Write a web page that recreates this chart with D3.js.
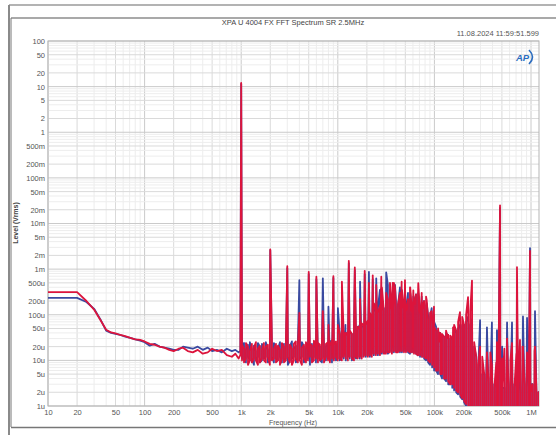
<!DOCTYPE html>
<html><head><meta charset="utf-8">
<script src="https://cdn.jsdelivr.net/npm/d3@7"></script>
<style>body{margin:0;background:#fff;} svg{display:block;}</style>
</head><body><svg id="c" width="556" height="435"></svg>
<script>
// ---- data (levels in µVrms) ----
// 10 Hz – 1 kHz: one reading per frequency
const lowFreqHz = [10,20,25,30,35,40,45,50,56,63,71,80,90,100,113,127,143,160,180,200,225,250,280,315,355,400,450,500,560,630,710,800,870,940,980];
const lowRedUv  = [313,313,200,130,76,47,41,39,36,34,31,29,28,26,23,22,20,19,17,16,18,19,16,15,17,14,15,18,16,17,13,12,14,11,13];
const lowBlueUv = [235,235,190,135,78,45,40,38,36,33,31,29,27,25,21,23,20,19,18,17,17,20,19,18,20,17,19,16,17,15,18,16,17,15,16];

// 1 kHz – 10 kHz: min / max per display column
const midFreqHz = [1020,1070,1120,1175,1230,1290,1355,1420,1490,1560,1640,1720,1800,1890,1980,2080,2180,2290,2400,2520,2640,2770,2900,3040,3190,3350,3510,3680,3860,4050,4250,4460,4680,4910,5150,5400,5660,5940,6230,6530,6850,7190,7540,7910,8290,8700,9120,9570];
const midRedMaxUv  = [22,18,24,20,16,23,19,25,18,21,17,24,20,22,19,26,18,23,21,17,24,20,25,19,22,18,23,26,20,24,19,22,25,18,23,21,27,20,24,22,26,19,23,25,21,28,22,26];
const midRedMinUv  = [10,9,11,8,10,9,11,10,8,9,11,10,9,12,8,10,11,9,10,8,11,9,10,12,9,8,10,11,9,10,8,11,9,10,12,9,10,11,9,10,11,9,12,10,9,11,10,12];
const midBlueMaxUv = [20,24,17,22,25,18,21,16,24,20,23,18,25,17,22,19,24,20,18,25,19,23,17,24,20,26,18,21,24,19,25,20,18,24,21,23,19,26,22,20,23,25,20,24,27,21,25,23];
const midBlueMinUv = [11,10,9,12,10,11,8,10,12,9,10,11,12,9,10,12,9,11,10,12,9,10,11,8,10,11,12,9,10,11,12,9,10,11,8,10,12,9,11,10,9,12,10,11,10,9,11,10];

// 10 kHz – 1.25 MHz: min / max per display column
const highFreqHz = [10000,10500,11000,11500,12100,12700,13300,14000,14700,15400,
  16100,16900,17700,18600,19500,20500,21500,22500,23600,24800,
  26000,27300,28600,30000,31500,33000,34600,36300,38100,40000,
  42000,44000,46100,48400,50800,53300,55900,58600,61500,64500,
  67700,71000,74500,78200,82000,86000,90200,94700,99300,104000,
  109000,115000,120000,126000,132000,139000,146000,153000,160000,168000,
  176000,185000,194000,203000,213000,224000,235000,246000,258000,271000,
  284000,298000,313000,328000,344000,361000,379000,397000,417000,437000,
  459000,481000,505000,530000,556000,583000,612000,642000,673000,706000,
  741000,777000,815000,855000,897000,941000,988000,1036000,1087000,1140000,
  1196000,1250000];
const highRedMaxUv = [32,38,30,40,35,42,45,38,50,44,
  55,48,65,58,60,75,110,90,180,130,
  110,160,400,120,150,220,250,120,500,140,
  170,300,350,130,120,220,400,110,160,280,
  300,100,130,200,250,80,110,60,55,45,
  50,40,38,33,45,36,35,30,60,45,
  70,55,90,60,100,70,120,40,25,12,
  8,6,12,5,3,4,15,3,2.5,9,
  3,4,3,18,2.5,3,10,2.5,2.5,14,
  3,2,20,3,3,12,2,3,16,2,
  2,1.5];
const highRedMinUv = [10,11,10,12,11,10,12,11,10,12,
  11,12,11,12,13,12,13,12,14,13,
  14,13,15,14,14,15,15,14,16,15,
  15,16,16,15,15,16,15,15,14,14,
  13,13,12,12,11,10,9,8,7,6,
  6,5,5,4,4,3.5,3,3,2.5,2.2,
  2,1.8,1.5,1.3,1.1,1,0.9,0.8,0.7,0.6,
  0.5,0.5,0.5,0.5,0.5,0.5,0.5,0.5,0.5,0.5,
  0.5,0.5,0.5,0.5,0.5,0.5,0.5,0.5,0.5,0.5,
  0.5,0.5,0.5,0.5,0.5,0.5,0.5,0.5,0.5,0.5,
  0.5,0.5];
const highBlueMaxUv = [30,35,36,30,40,38,42,38,46,45,
  50,60,55,55,65,70,90,100,130,120,
  140,350,130,140,160,450,180,160,220,200,
  160,400,200,150,130,300,220,130,180,280,
  220,120,150,200,160,100,90,80,70,55,
  45,40,36,33,40,36,30,30,40,45,
  50,55,60,60,70,70,60,40,20,12,
  6,6,5,5,4,4,3,3,3,3,
  4,3,2.5,2.5,3,3,2.5,2.5,3,3,
  2,2.5,3,3,2.5,2.5,3,3,2,2,
  2,1.5];
const highBlueMinUv = [11,10,12,11,10,12,11,10,12,11,
  12,11,12,13,12,13,12,14,13,14,
  13,14,14,15,15,14,16,15,15,16,
  16,15,15,16,16,15,14,15,15,14,
  13,12,12,11,10,9,8,7,6,6,
  5,5,4,4,3.5,3,3,2.5,2.2,2,
  1.8,1.6,1.4,1.2,1,0.9,0.8,0.7,0.6,0.6,
  0.5,0.5,0.5,0.5,0.5,0.5,0.5,0.5,0.5,0.5,
  0.5,0.5,0.5,0.5,0.5,0.5,0.5,0.5,0.5,0.5,
  0.5,0.5,0.5,0.5,0.5,0.5,0.5,0.5,0.5,0.5,
  0.5,0.5];

// fundamental, harmonics and other discrete tones
const spikeFreqHz = [1000,2000,3000,4000,5000,6000,7000,8000,9000,10020,
  11030,12000,13000,15000,17000,19000,21000,23000,25000,28200,
  31700,34700,37000,39100,45800,49600,56200,60500,68100,73900,
  83200,93700,99000,114000,138000,156000,184000,223000,245000,297000,
  350000,394000,444000,478000,503000,565000,636000,716000,769000,826000,
  910000,977000,1100000];
const spikeRedUv = [12000000,2700,1160,110,870,680,120,60,700,60,
  530,40,1520,1090,220,920,500,730,450,680,
  300,500,500,400,530,570,400,340,490,300,
  210,120,150,25,30,53,114,243,560,20,
  15,8,25,25000,11,30,24,1100,28,20,
  15,2500,20];
const spikeBlueUv = [11500000,2600,1050,570,780,600,630,150,640,140,
  120,60,1350,950,530,780,870,600,630,380,
  850,350,300,450,350,400,300,250,300,250,
  180,140,100,32,36,30,60,90,80,76,
  53,68,46,22000,20,68,68,100,15,92,
  85,2900,120];

const xTickValues = [10,20,50,100,200,500,1e3,2e3,5e3,1e4,2e4,5e4,1e5,2e5,5e5,1e6];
const xTickLabels = ["10","20","50","100","200","500","1k","2k","5k","10k","20k","50k","100k","200k","500k","1M"];
const yTickValues = [100,50,20,10,5,2,1,0.5,0.2,0.1,0.05,0.02,0.01,0.005,0.002,0.001,5e-4,2e-4,1e-4,5e-5,2e-5,1e-5,5e-6,2e-6,1e-6];
const yTickLabels = ["100","50","20","10","5","2","1","500m","200m","100m","50m","20m","10m","5m","2m","1m","500u","200u","100u","50u","20u","10u","5u","2u","1u"];

// ---- layout ----
const P = {left:48, right:539, top:41, bottom:406};
const FONT = "'Liberation Sans', Arial, sans-serif";
const svg = d3.select("#c");
const x = d3.scaleLog().domain([10, 1e6]).range([48, 531]);
const y = d3.scaleLog().domain([1e-6, 100]).range([406, 41]);

svg.append("rect").attr("width",556).attr("height",435).attr("fill","#fff");
// outer frames
svg.append("line").attr("x1",9).attr("x2",556).attr("y1",5).attr("y2",5).attr("stroke","#9a9a9a").attr("stroke-width",1.5);
svg.append("line").attr("x1",9).attr("x2",9).attr("y1",5).attr("y2",435).attr("stroke","#8a8a8a").attr("stroke-width",2);
svg.append("line").attr("x1",11).attr("x2",556).attr("y1",18).attr("y2",18).attr("stroke","#555").attr("stroke-width",1.2);
svg.append("line").attr("x1",11).attr("x2",11).attr("y1",18).attr("y2",427).attr("stroke","#777").attr("stroke-width",1);
svg.append("line").attr("x1",11).attr("x2",556).attr("y1",427.5).attr("y2",427.5).attr("stroke","#777").attr("stroke-width",1.5);

// grid
const gx = [], gy = [];
for (let d = 10; d <= 1e6; d *= 10) for (let m = 1; m <= 9; m++) { if (m*d <= 1.2e6) gx.push({v:m*d, m}); }
for (let e = -6; e <= 2; e++) for (let m = 1; m <= 9; m++) { const v = m*Math.pow(10,e); if (v <= 100.0001) gy.push({v, m}); }
const gcol = m => m===1 ? "#cacaca" : (m===2||m===5) ? "#dadada" : "#ededed";
const grid = svg.append("g");
grid.selectAll(".gx").data(gx).join("line")
  .attr("x1",d=>x(d.v)).attr("x2",d=>x(d.v)).attr("y1",P.top).attr("y2",P.bottom)
  .attr("stroke",d=>gcol(d.m)).attr("stroke-width",1);
grid.selectAll(".gy").data(gy).join("line")
  .attr("y1",d=>y(d.v)).attr("y2",d=>y(d.v)).attr("x1",P.left).attr("x2",P.right)
  .attr("stroke",d=>gcol(d.m)).attr("stroke-width",1);
svg.append("rect").attr("x",P.left).attr("y",P.top).attr("width",P.right-P.left).attr("height",P.bottom-P.top)
  .attr("fill","none").attr("stroke","#b5b5b5").attr("stroke-width",1);

// series: single readings, then min/max column pairs, then tones, sorted by frequency
function build(lowV, mf, mMax, mMin, hf, hMax, hMin, sv){
  const pts = [];
  lowFreqHz.forEach((f,i)=>pts.push({f, v: lowV[i]*1e-6}));
  const pairs = (fs, mx, mn) => fs.forEach((f,i)=>{
    const a = i%2 ? mx[i] : mn[i], b = i%2 ? mn[i] : mx[i];
    pts.push({f, v:a*1e-6}); pts.push({f, v:b*1e-6});
  });
  pairs(mf, mMax, mMin);
  pairs(hf, hMax, hMin);
  spikeFreqHz.forEach((f,i)=>{ if (sv[i] != null) pts.push({f, v: sv[i]*1e-6}); });
  return d3.sort(pts, d=>d.f);
}
const blue = build(lowBlueUv, midFreqHz, midBlueMaxUv, midBlueMinUv, highFreqHz, highBlueMaxUv, highBlueMinUv, spikeBlueUv);
const red  = build(lowRedUv,  midFreqHz, midRedMaxUv,  midRedMinUv,  highFreqHz, highRedMaxUv,  highRedMinUv,  spikeRedUv);

svg.append("clipPath").attr("id","clip").append("rect")
  .attr("x",P.left).attr("y",P.top).attr("width",P.right-P.left).attr("height",P.bottom-P.top);
const line = d3.line().x(d=>x(d.f)).y(d=>y(d.v));
const series = svg.append("g").attr("clip-path","url(#clip)");
series.append("path").datum(blue).attr("d",line).attr("fill","none").attr("stroke","#3a4aa0").attr("stroke-width",1.8).attr("stroke-linejoin","round");
series.append("path").datum(red).attr("d",line).attr("fill","none").attr("stroke","#dc143c").attr("stroke-width",1.8).attr("stroke-linejoin","round");

// axes
const xa = svg.append("g").attr("transform",`translate(0,${P.bottom})`)
  .call(d3.axisBottom(x).tickValues(xTickValues).tickFormat((d,i)=>xTickLabels[i]).tickSize(0).tickPadding(4));
xa.select(".domain").remove();
xa.selectAll("text").attr("font-size",7.5).attr("fill","#555").attr("font-family",FONT);
const ya = svg.append("g").attr("transform",`translate(${P.left},0)`)
  .call(d3.axisLeft(y).tickValues(yTickValues).tickFormat((d,i)=>yTickLabels[i]).tickSize(0).tickPadding(3));
ya.select(".domain").remove();
ya.selectAll("text").attr("font-size",7.5).attr("fill","#555").attr("font-family",FONT);

// titles
svg.append("text").attr("x",293).attr("y",25).attr("text-anchor","middle").attr("font-size",7.5).attr("fill","#444").attr("font-family",FONT)
  .text("XPA U 4004 FX FFT Spectrum SR 2.5MHz");
svg.append("text").attr("x",539).attr("y",36).attr("text-anchor","end").attr("font-size",7.5).attr("fill","#555").attr("font-family",FONT)
  .text("11.08.2024 11:59:51.599");
svg.append("text").attr("x",293).attr("y",425).attr("text-anchor","middle").attr("font-size",7).attr("fill","#555").attr("font-family",FONT)
  .text("Frequency (Hz)");
svg.append("text").attr("transform","translate(18,223) rotate(-90)").attr("text-anchor","middle").attr("font-size",7).attr("font-weight","bold").attr("fill","#444").attr("font-family",FONT)
  .text("Level (Vrms)");

// AP logo
svg.append("text").attr("x",516).attr("y",61).attr("font-size",9.5).attr("font-weight","bold").attr("font-style","italic").attr("fill","#2a6cc0").attr("font-family",FONT).text("AP");
svg.append("path").attr("d","M529,50 Q536,57 529,64").attr("fill","none").attr("stroke","#2a6cc0").attr("stroke-width",1.6);
</script>
</body></html>
